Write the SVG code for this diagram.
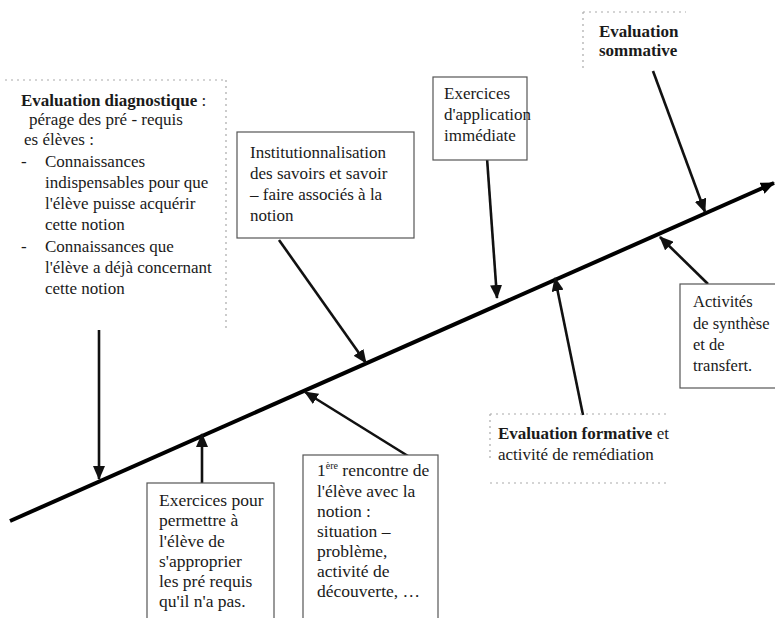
<svg xmlns="http://www.w3.org/2000/svg" width="775" height="618" viewBox="0 0 775 618">
<style>
text{font-family:"Liberation Serif","Times New Roman",Times,serif;font-size:17px;fill:#1a1a1a}
.b{font-weight:bold}
.box{fill:#fff;stroke:#555;stroke-width:1.2}
.dot{fill:none;stroke:#aaa;stroke-width:1.2;stroke-dasharray:2 4}
.arr{stroke:#111;stroke-width:2.6;fill:none;marker-end:url(#ah)}
.main{stroke:#000;stroke-width:4;fill:none;marker-end:url(#mh)}
.s{font-size:17.5px}
.a{font-size:16.5px}
</style>
<defs>
<marker id="ah" markerUnits="userSpaceOnUse" viewBox="0 0 14 12" refX="13" refY="6" markerWidth="14" markerHeight="12" orient="auto"><path d="M0,0 L14,6 L0,12 z" fill="#111"/></marker>
<marker id="mh" markerUnits="userSpaceOnUse" viewBox="0 0 14 12" refX="13" refY="6" markerWidth="14" markerHeight="12" orient="auto"><path d="M0,0 L14,6 L0,12 z" fill="#000"/></marker>
</defs>
<rect width="775" height="618" fill="#fff"/>

<g id="connectors">
<line class="main" x1="10" y1="521" x2="774" y2="183"/>
<line class="arr" x1="99" y1="330" x2="99" y2="479"/>
<line class="arr" x1="202" y1="483" x2="202" y2="434"/>
<line class="arr" x1="279" y1="240" x2="366" y2="363"/>
<line class="arr" x1="408" y1="456" x2="305" y2="392"/>
<line class="arr" x1="487" y1="158" x2="497" y2="298"/>
<line class="arr" x1="583" y1="415" x2="555" y2="278"/>
<line class="arr" x1="708" y1="284" x2="660" y2="237"/>
<line class="arr" x1="653" y1="71" x2="705" y2="212"/>
</g>

<g id="diagnostique">
<path class="dot" d="M5,80 H226 M226,80 V330"/>
<text x="21" y="106"><tspan class="b">Evaluation diagnostique</tspan> :</text>
<text x="29" y="125">pérage des pré - requis</text>
<text x="24" y="145">es élèves :</text>
<text x="21" y="167">-</text>
<text x="45" y="167">Connaissances</text>
<text x="45" y="188">indispensables pour que</text>
<text x="45" y="209">l'élève puisse acquérir</text>
<text x="45" y="230">cette notion</text>
<text x="21" y="252">-</text>
<text x="45" y="252">Connaissances que</text>
<text x="45" y="273">l'élève a déjà concernant</text>
<text x="45" y="294">cette notion</text>
</g>

<g id="institutionnalisation">
<rect class="box" x="237" y="132" width="177" height="106"/>
<text x="250" y="158">Institutionnalisation</text>
<text x="250" y="179">des savoirs et savoir</text>
<text x="250" y="200">– faire associés à  la</text>
<text x="250" y="221">notion</text>
</g>

<g id="application">
<rect class="box" x="433" y="77" width="94" height="83"/>
<text x="444" y="99">Exercices</text>
<text x="444" y="120">d'application</text>
<text x="444" y="141">immédiate</text>
</g>

<g id="sommative">
<path class="dot" d="M583,12 H686 M583,12 V72"/>
<text class="b" x="599" y="37">Evaluation</text>
<text class="b" x="599" y="56">sommative</text>
</g>

<g id="synthese">
<rect class="box" x="680" y="284" width="96" height="104"/>
<text class="a" x="693" y="307">Activités</text>
<text class="a" x="693" y="329">de synthèse</text>
<text class="a" x="693" y="350">et de</text>
<text class="a" x="693" y="371">transfert.</text>
</g>

<g id="formative">
<path class="dot" d="M490,414 H670 M490,414 V462 M490,483 H670"/>
<text x="498" y="439"><tspan class="b">Evaluation formative</tspan> et</text>
<text x="498" y="460">activité de remédiation</text>
</g>

<g id="exercices-prerequis">
<rect class="box" x="147" y="483" width="127" height="140"/>
<text class="s" x="159" y="506">Exercices pour</text>
<text class="s" x="159" y="526">permettre à</text>
<text class="s" x="159" y="547">l'élève de</text>
<text class="s" x="159" y="567">s'approprier</text>
<text class="s" x="159" y="587">les pré requis</text>
<text class="s" x="159" y="607">qu'il n'a pas.</text>
</g>

<g id="rencontre">
<rect class="box" x="303" y="455" width="135" height="168"/>
<text class="s" x="317" y="476">1<tspan dy="-7" style="font-size:10px">ère</tspan><tspan dy="7"> rencontre de</tspan></text>
<text class="s" x="317" y="497">l'élève avec la</text>
<text class="s" x="317" y="517">notion :</text>
<text class="s" x="317" y="537">situation –</text>
<text class="s" x="317" y="557">problème,</text>
<text class="s" x="317" y="577">activité de</text>
<text class="s" x="317" y="597">découverte, …</text>
</g>
</svg>
